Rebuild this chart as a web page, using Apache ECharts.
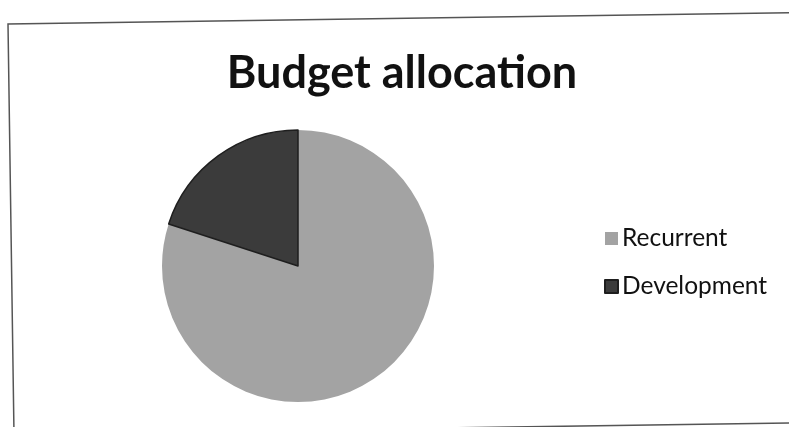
<!DOCTYPE html>
<html>
<head>
<meta charset="utf-8">
<script src="https://cdn.jsdelivr.net/npm/echarts@6/dist/echarts.min.js"></script>
<style>
  html, body { margin: 0; padding: 0; background: #fff; }
  #chart { width: 789px; height: 427px; }
</style>
</head>
<body>
<div id="chart"></div>
<script>
// Budget split between recurrent and development spending
const categories = ['Recurrent', 'Development'];
const shares = [80, 20];
const sliceColors = ['#a3a3a3', '#3b3b3b'];

const chart = echarts.init(document.getElementById('chart'), null, { renderer: 'canvas' });

const fontFamily = 'Lato, "Open Sans", sans-serif';

chart.setOption({
  backgroundColor: '#ffffff',
  animation: false,
  title: {
    text: 'Budget allocation',
    left: 397,
    top: 46,
    textAlign: 'center',
    textStyle: {
      fontFamily: fontFamily,
      fontWeight: 'bold',
      fontSize: 45,
      color: '#111'
    }
  },
  legend: {
    orient: 'vertical',
    left: 599,
    top: 221,
    itemWidth: 13,
    itemHeight: 13,
    itemGap: 23,
    icon: 'rect',
    textStyle: {
      fontFamily: fontFamily,
      fontSize: 24.5,
      color: '#111',
      padding: [0, 0, 0, -1]
    },
    data: categories
  },
  graphic: [
    {
      type: 'polyline',
      silent: true,
      shape: { points: [[14, 434], [8, 24], [795, 12.6]] },
      style: { stroke: '#555', lineWidth: 1.5, fill: null }
    },
    {
      type: 'line',
      silent: true,
      shape: { x1: 14, y1: 434, x2: 795, y2: 423 },
      style: { stroke: '#555', lineWidth: 1.5 }
    }
  ],
  series: [
    {
      type: 'pie',
      center: [298, 266],
      radius: [0, 136],
      startAngle: 90,
      clockwise: true,
      label: { show: false },
      labelLine: { show: false },
      emphasis: { disabled: true },
      data: categories.map((name, i) => ({
        name: name,
        value: shares[i],
        itemStyle: {
          color: sliceColors[i],
          borderColor: i === 1 ? '#1e1e1e' : sliceColors[i],
          borderWidth: i === 1 ? 1.5 : 0
        }
      }))
    }
  ]
});
</script>
</body>
</html>
